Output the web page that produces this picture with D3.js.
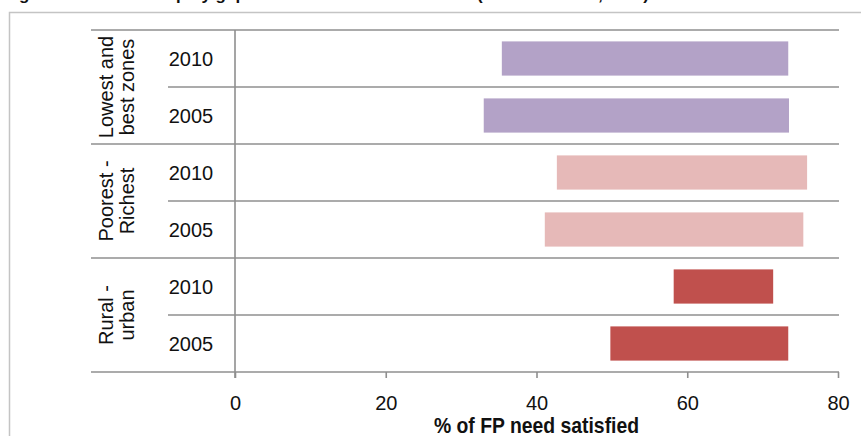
<!DOCTYPE html>
<html>
<head>
<meta charset="utf-8">
<script src="https://cdn.jsdelivr.net/npm/d3@7"></script>
<style>
  body { margin: 0; background: #fff; }
  svg { display: block; }
  text { font-family: "Liberation Sans", Arial, sans-serif; fill: #111; }
</style>
</head>
<body>
<div id="chart"></div>
<script>
// data
var groups = ['Lowest and best zones', 'Poorest - Richest', 'Rural - urban']
var groupLines = [['Lowest and', 'best zones'], ['Poorest -', 'Richest'], ['Rural -', 'urban']]
var years = ['2010', '2005']
var lowValues = [35.4, 33.0, 42.7, 41.1, 58.2, 49.8]
var highValues = [73.4, 73.5, 75.9, 75.4, 71.4, 73.4]
var groupColors = ['#b3a2c7', '#e6b9b8', '#c0504d']
var tickValues = [0, 20, 40, 60, 80]

var width = 861, height = 436

// one row per group/year pair
var rows = []
groups.forEach((g, gi) => {
  years.forEach((y, yi) => {
    var k = gi * years.length + yi
    rows.push({ id: k, group: gi, year: y, lo: lowValues[k], hi: highValues[k] })
  })
})

var svg = d3.select('#chart').append('svg')
  .attr('width', width)
  .attr('height', height)

// title, cut off at the top edge (only descenders show)
svg.append('text')
  .attr('x', 4)
  .attr('y', -0.3)
  .style('font-weight', 'bold')
  .style('font-size', '17px')
  .text('Figure 3: Trends in equity gaps in demand for FP satisfied (2005 and 2010, DHS)')

// outer frame of the chart area
svg.append('rect')
  .attr('x', 9.5).attr('y', 12.5)
  .attr('width', 900).attr('height', 500)
  .attr('fill', 'none')
  .attr('stroke', '#c4c4c4')
  .attr('stroke-width', 1.5)

var x = d3.scaleLinear().domain([0, 80]).range([235, 838])
var y = d3.scaleBand()
  .domain(rows.map(d => d.id))
  .range([30, 372])
  .paddingInner(0.4)
  .paddingOuter(0.2)

var rowH = y.step()
var plotTop = y.range()[0]
var left = 91, yearLeft = 168, right = 839

// row separators
var seps = d3.range(rows.length + 1)
svg.append('g').selectAll('line')
  .data(seps)
  .join('line')
  .attr('x1', d => (d % years.length === 0) ? left : yearLeft)
  .attr('x2', right)
  .attr('y1', d => plotTop + d * rowH)
  .attr('y2', d => plotTop + d * rowH)
  .attr('stroke', '#8f8f8f')
  .attr('stroke-width', 1.6)

// bars
svg.append('g').selectAll('rect')
  .data(rows)
  .join('rect')
  .attr('x', d => x(d.lo))
  .attr('y', d => y(d.id))
  .attr('width', d => x(d.hi) - x(d.lo))
  .attr('height', y.bandwidth())
  .attr('fill', d => groupColors[d.group])

// x axis
var axisY = plotTop + rows.length * rowH
var xAxis = svg.append('g')
  .attr('transform', 'translate(0,' + axisY + ')')
  .call(d3.axisBottom(x).tickValues(tickValues).tickSize(6).tickPadding(18).tickFormat(d3.format('d')))
xAxis.select('.domain').remove()
xAxis.selectAll('.tick line').attr('stroke', '#8f8f8f').attr('stroke-width', 1.6)
xAxis.selectAll('.tick text')
  .style('font-size', '20px')
  .style('font-family', '"Liberation Sans", Arial, sans-serif')
  .attr('fill', '#111')

// vertical zero line
svg.append('line')
  .attr('x1', x(0)).attr('x2', x(0))
  .attr('y1', plotTop).attr('y2', axisY + 6)
  .attr('stroke', '#8f8f8f')
  .attr('stroke-width', 1.6)

// axis title (narrowed to look like the original condensed face)
svg.append('text')
  .attr('transform', 'translate(' + x(40) + ',433) scale(0.88,1)')
  .attr('text-anchor', 'middle')
  .style('font-size', '22px')
  .style('font-weight', 'bold')
  .text('% of FP need satisfied')

// year labels
svg.append('g').selectAll('text')
  .data(rows)
  .join('text')
  .attr('x', 191)
  .attr('y', d => y(d.id) + y.bandwidth() / 2)
  .attr('dy', '0.35em')
  .attr('text-anchor', 'middle')
  .style('font-size', '20px')
  .text(d => d.year)

// rotated group labels
var gl = svg.append('g').selectAll('text')
  .data(groupLines)
  .join('text')
  .attr('transform', (d, i) => 'translate(116,' + (plotTop + (i + 0.5) * years.length * rowH) + ') rotate(-90)')
  .attr('text-anchor', 'middle')
  .style('font-size', '20px')
gl.selectAll('tspan')
  .data(d => d)
  .join('tspan')
  .attr('x', 0)
  .attr('y', (d, i) => i === 0 ? -3 : 18)
  .text(d => d)
</script>
</body>
</html>
